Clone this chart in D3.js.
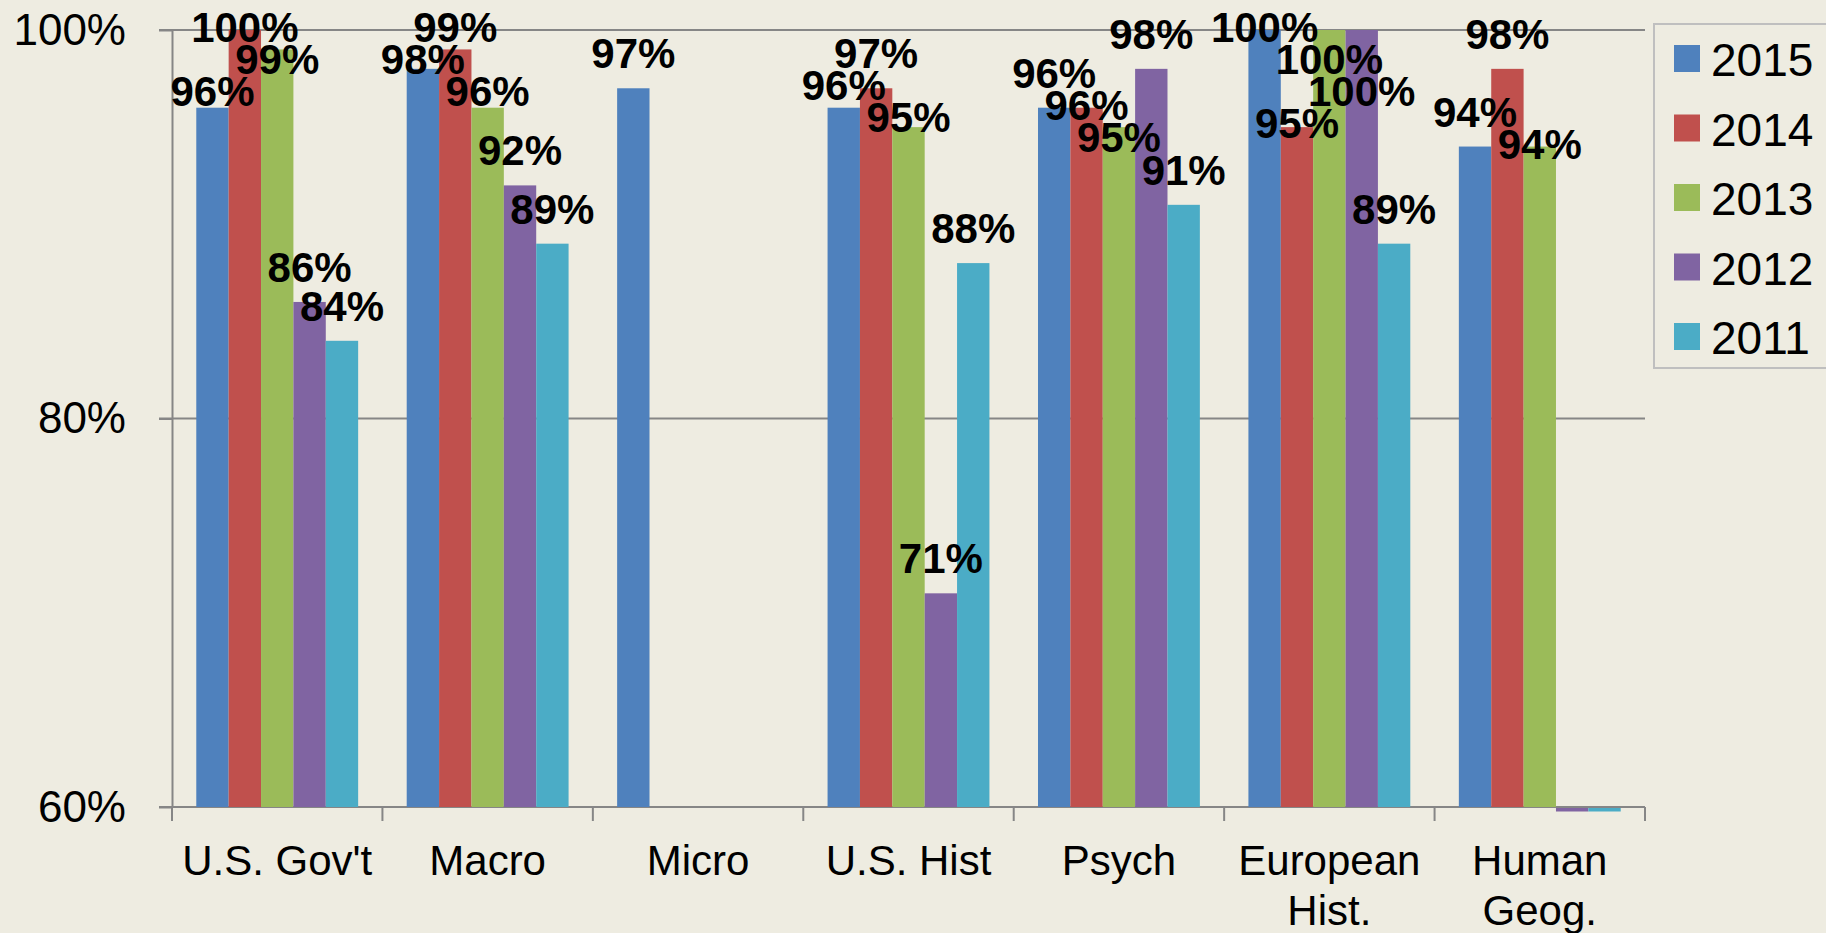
<!DOCTYPE html>
<html>
<head>
<meta charset="utf-8">
<script src="https://cdn.jsdelivr.net/npm/d3@7"></script>
<style>
html, body { margin: 0; padding: 0; background: #EEECE1; overflow: hidden; }
svg { display: block; font-family: "Liberation Sans", Arial, sans-serif; }
</style>
</head>
<body>
<script>
// pass rates by subject, one array per year (null = no exam that year)
var subjects = ["U.S. Gov't", "Macro", "Micro", "U.S. Hist", "Psych", "European Hist.", "Human Geog."];
var years = ["2015", "2014", "2013", "2012", "2011"];
var pass2015 = [96, 98, 97, 96, 96, 100, 94];
var pass2014 = [100, 99, null, 97, 96, 95, 98];
var pass2013 = [99, 96, null, 95, 95, 100, 94];
var pass2012 = [86, 92, null, 71, 98, 100, 0];
var pass2011 = [84, 89, null, 88, 91, 89, 0];
var yTicks = [60, 80, 100];

var series = [pass2015, pass2014, pass2013, pass2012, pass2011];

var W = 1826, H = 933;
var plot = {left: 172, right: 1645, top: 30, bottom: 807};
var gridColor = '#868686';

var svg = d3.select('body').append('svg')
    .attr('width', W)
    .attr('height', H);

svg.append('rect')
    .attr('width', W)
    .attr('height', H)
    .attr('fill', '#EEECE1');

var x = d3.scaleBand()
    .domain(subjects)
    .range([plot.left, plot.right]);

// excel style gap width (150%) -> 0.75 step on each side
var xInner = d3.scaleBand()
    .domain(years)
    .range([0, x.bandwidth()])
    .paddingOuter(0.75);

var y = d3.scaleLinear()
    .domain([60, 100])
    .range([plot.bottom, plot.top]);

var color = d3.scaleOrdinal()
    .domain(years)
    .range(['#4F81BD', '#C0504D', '#9BBB59', '#8064A2', '#4BACC6']);

// gridlines
svg.append('g')
    .selectAll('line')
    .data(yTicks)
    .join('line')
    .attr('x1', plot.left - 13)
    .attr('x2', plot.right)
    .attr('y1', function (d) { return y(d); })
    .attr('y2', function (d) { return y(d); })
    .attr('stroke', gridColor)
    .attr('stroke-width', 2);

// y axis
var yAxis = svg.append('g')
    .attr('transform', 'translate(' + plot.left + ',0)')
    .call(d3.axisLeft(y)
        .tickValues(yTicks)
        .tickFormat(function (d) { return d + '%'; })
        .tickSize(13)
        .tickSizeOuter(0)
        .tickPadding(33));
yAxis.select('.domain').attr('stroke', gridColor).attr('stroke-width', 2);
yAxis.selectAll('.tick line').attr('stroke', gridColor).attr('stroke-width', 2);
yAxis.selectAll('.tick text')
    .attr('fill', '#000')
    .style('font-size', '44px')
    .style('font-family', '"Liberation Sans", Arial, sans-serif');

// x axis ticks at category boundaries
var bounds = d3.range(subjects.length + 1).map(function (i) { return plot.left + i * x.step(); });
svg.append('g')
    .selectAll('line')
    .data(bounds)
    .join('line')
    .attr('x1', function (d) { return d; })
    .attr('x2', function (d) { return d; })
    .attr('y1', plot.bottom)
    .attr('y2', plot.bottom + 14)
    .attr('stroke', gridColor)
    .attr('stroke-width', 2);

// category labels, wrapped if they don't fit in the band
var catLabels = svg.append('g')
    .selectAll('text')
    .data(subjects)
    .join('text')
    .attr('x', function (d) { return x(d) + x.bandwidth() / 2; })
    .attr('y', 875)
    .attr('text-anchor', 'middle')
    .style('font-size', '42px')
    .attr('fill', '#000')
    .text(function (d) { return d; });

catLabels.each(function (d) {
    var t = d3.select(this);
    if (this.getComputedTextLength() <= x.bandwidth()) return;
    var words = d.split(' ');
    t.text(null);
    words.forEach(function (w, i) {
        t.append('tspan')
            .attr('x', x(d) + x.bandwidth() / 2)
            .attr('dy', i === 0 ? 0 : 50)
            .text(w);
    });
});

// bars
var barData = [];
series.forEach(function (vals, s) {
    vals.forEach(function (v, i) {
        if (v === null) return;
        barData.push({sub: subjects[i], year: years[s], value: v, s: s});
    });
});

svg.append('g')
    .selectAll('rect')
    .data(barData)
    .join('rect')
    .attr('x', function (d) { return x(d.sub) + xInner(d.year); })
    .attr('width', xInner.bandwidth())
    .attr('y', function (d) { return d.value >= 60 ? y(d.value) : plot.bottom + 1; })
    .attr('height', function (d) { return d.value >= 60 ? plot.bottom - y(d.value) : 3.5; })
    .attr('fill', function (d) { return color(d.year); });

// data labels: outside end, pushed down when they collide
var labelLayer = svg.append('g');
subjects.forEach(function (sub) {
    var group = barData.filter(function (d) { return d.sub === sub && d.value >= 60; });
    group.sort(function (a, b) { return b.value - a.value || a.s - b.s; });
    var placed = [];
    group.forEach(function (d) {
        var cx = x(d.sub) + xInner(d.year) + xInner.bandwidth() / 2;
        var t = labelLayer.append('text')
            .attr('x', cx)
            .attr('text-anchor', 'middle')
            .style('font-size', '42px')
            .style('font-weight', 'bold')
            .attr('fill', '#000')
            .text(d.value + '%');
        var w = t.node().getComputedTextLength();
        var base = Math.max(y(d.value) - 20, 42);
        var moved = true;
        while (moved) {
            moved = false;
            placed.forEach(function (p) {
                if (Math.abs(cx - p.cx) < (w + p.w) / 2 && Math.abs(base - p.base) < 31) {
                    base = p.base + 32;
                    moved = true;
                }
            });
        }
        t.attr('y', base);
        placed.push({cx: cx, w: w, base: base});
    });
});

// legend
var legend = svg.append('g');
legend.append('rect')
    .attr('x', 1654)
    .attr('y', 24)
    .attr('width', 220)
    .attr('height', 344)
    .attr('fill', 'none')
    .attr('stroke', '#BFBFBF')
    .attr('stroke-width', 2);

var items = legend.selectAll('g.item')
    .data(years)
    .join('g')
    .attr('class', 'item')
    .attr('transform', function (d, i) { return 'translate(1674,' + (45 + i * 69.5) + ')'; });

items.append('rect')
    .attr('width', 26)
    .attr('height', 27)
    .attr('fill', function (d) { return color(d); });

items.append('text')
    .attr('x', 37)
    .attr('y', 31)
    .style('font-size', '46px')
    .attr('fill', '#000')
    .text(function (d) { return d; });
</script>
</body>
</html>
